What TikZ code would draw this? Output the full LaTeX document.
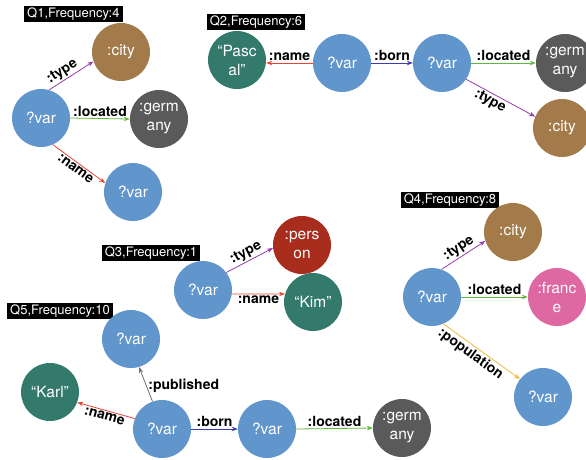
\documentclass[tikz,border=0pt]{standalone}
\usepackage{fontspec}
\setmainfont{TeX Gyre Heros}
\usetikzlibrary{arrows.meta}

\definecolor{varblue}{RGB}{97,150,205}
\definecolor{citybrown}{RGB}{163,122,74}
\definecolor{germgray}{RGB}{90,90,90}
\definecolor{nameteal}{RGB}{52,122,108}
\definecolor{personred}{RGB}{168,45,28}
\definecolor{francepink}{RGB}{221,104,162}
\definecolor{typepurple}{RGB}{150,60,170}
\definecolor{locgreen}{RGB}{95,185,60}
\definecolor{namered}{RGB}{228,70,50}
\definecolor{bornblue}{RGB}{60,60,175}
\definecolor{pubgray}{RGB}{110,110,110}
\definecolor{popyellow}{RGB}{240,185,60}

\begin{document}
\begin{tikzpicture}[x=1pt, y=-1pt,
  ent/.style={circle, minimum size=58pt, inner sep=0pt, text=white,
    align=center, font=\fontsize{15.5}{19}\selectfont},
  var/.style={ent, fill=varblue},
  city/.style={ent, fill=citybrown},
  germ/.style={ent, fill=germgray},
  lit/.style={ent, fill=nameteal},
  qbox/.style={fill=black, text=white, inner xsep=3pt, inner ysep=2pt,
    font=\fontsize{13}{15}\selectfont},
  rel/.style={font=\bfseries\fontsize{14}{16}\selectfont, inner sep=1.5pt},
  link/.style={-{Stealth[length=6pt,width=4.5pt]}, line width=0.8pt}]
  \useasboundingbox (0,0) rectangle (586,459);
  \clip (0,0) rectangle (586,459);

  % Q1
  \node[qbox, anchor=west] (q1) at (24,14) {Q1,Frequency:4};
  \node[var] (q1var) at (41,118) {?var};
  \node[city] (q1city) at (121,52) {:city};
  \node[germ] (q1germ) at (159,119) {:germ\\any};
  \node[var] (q1name) at (133,192) {?var};
  \draw[link, typepurple] (q1var.74) -- node[rel, sloped, above, pos=0.4, text=black] {:type} (q1city.199);
  \draw[link, locgreen] (q1var.east) -- node[rel, above, text=black] {:located} (q1germ.west);
  \draw[link, namered] (q1var.294) -- node[rel, sloped, below, text=black] {:name} (q1name.162);

  % Q2
  \node[qbox] (q2) at (256,22) {Q2,Frequency:6};
  \node[lit] (pascal) at (237,60) {“Pasc\\al”};
  \node[var] (q2var) at (342,63) {?var};
  \node[var] (q2place) at (442,63) {?var};
  \node[germ] (q2germ) at (565,63) {:germ\\any};
  \node[city] (q2city) at (562,128) {:city};
  \draw[link, namered] (q2var.west) -- node[rel, above, text=black] {:name} (pascal.east |- q2var.west);
  \draw[link, bornblue] (q2var.east) -- node[rel, above, text=black] {:born} (q2place.west);
  \draw[link, locgreen] (q2place.east) -- node[rel, above, text=black] {:located} (q2germ.west);
  \draw[link, typepurple] (q2place.326) -- node[rel, sloped, below, pos=0.4, text=black] {:type} (q2city.157);

  % Q3
  \node[qbox] (q3) at (151,253) {Q3,Frequency:1};
  \node[var] (q3var) at (203,290) {?var};
  \node[ent, fill=personred] (person) at (302,245) {:pers\\on};
  \node[lit] (kim) at (313,302) {“Kim”};
  \draw[link, typepurple] (q3var.37) -- node[rel, sloped, above, text=black] {:type} (person.186);
  \draw[link, namered] (q3var.352) -- node[rel, below, text=black] {:name} (kim.164);

  % Q4
  \node[qbox] (q4) at (450,200) {Q4,Frequency:8};
  \node[var] (q4var) at (432,297) {?var};
  \node[city] (q4city) at (513,232) {:city};
  \node[ent, fill=francepink] (france) at (557,297) {:franc\\e};
  \node[var] (q4pop) at (543,397) {?var};
  \draw[link, typepurple] (q4var.71) -- node[rel, sloped, above, text=black] {:type} (q4city.198);
  \draw[link, locgreen] (q4var.east) -- node[rel, above, text=black] {:located} (france.west);
  \draw[link, popyellow] (q4var.293) -- node[rel, sloped, below, pos=0.42, text=black] {:population} (q4pop.142);

  % Q5
  \node[qbox] (q5) at (60,311) {Q5,Frequency:10};
  \node[var] (q5work) at (131,339) {?var};
  \node[lit] (karl) at (50,392) {“Karl”};
  \node[var] (q5var) at (162,429) {?var};
  \node[var] (q5place) at (267,429) {?var};
  \node[germ] (q5germ) at (402,428) {:germ\\any};
  \draw[link, pubgray] (q5var.109) -- node[rel, right, pos=0.45, text=black] {:published} (q5work.286);
  \draw[link, namered] (q5var.159) -- node[rel, sloped, below, text=black] {:name} (karl.339);
  \draw[link, bornblue] (q5var.east) -- node[rel, above, text=black] {:born} (q5place.west);
  \draw[link, locgreen] (q5place.east) -- node[rel, above, text=black] {:located} (q5germ.west);
\end{tikzpicture}
\end{document}
